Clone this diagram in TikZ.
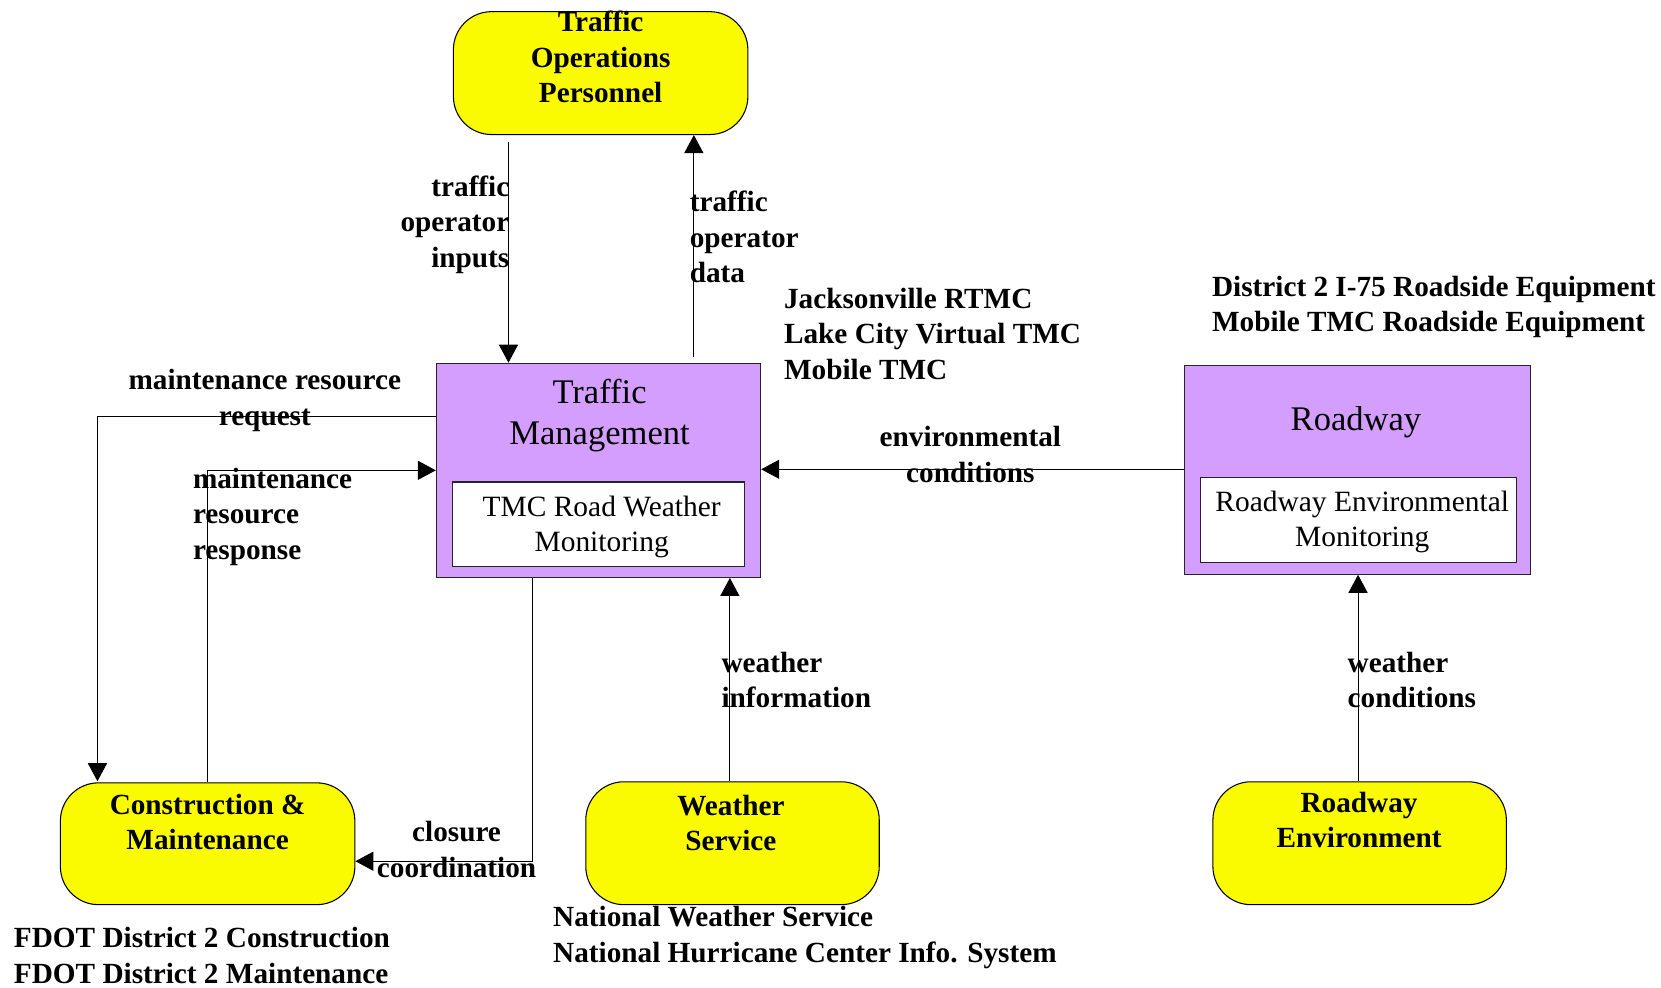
\documentclass[tikz,border=0pt]{standalone}
\usepackage{fontspec}
\setmainfont{Liberation Serif}
\usetikzlibrary{arrows.meta}
\definecolor{tmpurple}{RGB}{212,158,255}
\definecolor{termyellow}{RGB}{250,250,0}
\begin{document}
\begin{tikzpicture}[x=1pt,y=-1pt,
  termbox/.style={draw=black, line width=1pt, fill=termyellow, rounded corners=36pt, inner sep=0pt},
  sysbox/.style={draw=black!85, line width=1.2pt, fill=tmpurple, inner sep=0pt},
  subbox/.style={draw=black!85, line width=1pt, fill=white, inner sep=0pt},
  btxt/.style={inner sep=0pt, font=\fontsize{27.6}{33.5}\selectfont\bfseries},
  titletxt/.style={inner sep=0pt, align=center, font=\fontsize{32.6}{39}\selectfont},
  subtxt/.style={inner sep=0pt, align=center, font=\fontsize{27.8}{33}\selectfont},
  conn/.style={draw=black, line width=0.9pt, -{Triangle[width=18pt,length=17pt]}}
]
\useasboundingbox (0,0) rectangle (1568,932);

% boxes
\node[termbox, minimum width=278pt, minimum height=116pt] (top) at (567,69) {};
\node[sysbox, minimum width=306pt, minimum height=202pt] (tm) at (565,444) {};
\node[subbox, minimum width=276pt, minimum height=80pt] (tmin) at (565,495) {};
\node[sysbox, minimum width=327pt, minimum height=197pt] (rw) at (1281.5,443.5) {};
\node[subbox, minimum width=299pt, minimum height=80pt] (rwin) at (1282.5,491) {};
\node[termbox, minimum width=278pt, minimum height=115pt] (cm) at (196,796.5) {};
\node[termbox, minimum width=277pt, minimum height=116pt] (ws) at (691.5,796) {};
\node[termbox, minimum width=277pt, minimum height=116pt] (re) at (1283.5,796) {};

% box texts
\node[btxt, align=center] (topT) at (567,54) {Traffic\\Operations\\Personnel};
\node[titletxt] (tmT) at (566,392) {Traffic\\Management};
\node[subtxt] (tminT) at (568,497) {TMC Road Weather\\Monitoring};
\node[titletxt] (rwT) at (1280,399) {Roadway};
\node[subtxt] (rwinT) at (1286,493) {Roadway Environmental\\Monitoring};
\node[btxt, align=center] (cmT) at (196,776) {Construction \&\\Maintenance};
\node[btxt, align=center] (wsT) at (690,777) {Weather\\Service};
\node[btxt, align=center] (reT) at (1283,774) {Roadway\\Environment};

% routing coordinates
\coordinate (xin) at (480,0);
\coordinate (xdata) at (655,0);
\coordinate (yreq) at (0,393);
\coordinate (xreq) at (92,0);
\coordinate (xresp) at (196,0);
\coordinate (yresp) at (0,444);
\coordinate (xclos) at (503,0);
\coordinate (yclos) at (0,813);
\coordinate (xwi) at (689,0);
\coordinate (yenv) at (0,443);
\coordinate (xwc) at (1282,0);

% connectors
\draw[conn] (top.south -| xin) ++(0,7) -- (tm.north -| xin);
\draw[conn] (tm.north -| xdata) ++(0,-5) -- (top.south -| xdata);
\draw[conn] (tm.west |- yreq) -| ([yshift=1pt]cm.north -| xreq);
\draw[conn] (cm.north -| xresp) |- (tm.west |- yresp);
\draw[conn] (tm.south -| xclos) |- (cm.east |- yclos);
\draw[conn] (ws.north -| xwi) -- (tm.south -| xwi);
\draw[conn] (rw.west |- yenv) -- (tm.east |- yenv);
\draw[conn] (re.north -| xwc) -- (rw.south -| xwc);

% connector labels
\node[btxt, align=right, anchor=east] (lInputs) at (481,212) {traffic\\operator\\inputs};
\node[btxt, align=left, anchor=west] (lData) at (651,224) {traffic\\operator\\data};
\node[btxt, align=center] (lReq) at (250,378) {maintenance resource\\request};
\node[btxt, align=left, anchor=west] (lResp) at (182,488) {maintenance\\resource\\response};
\node[btxt, align=center] (lClos) at (431,802) {closure\\coordination};
\node[btxt, align=left, anchor=west] (lWInfo) at (681,642) {weather\\information};
\node[btxt, align=center] (lEnv) at (916,429) {environmental\\conditions};
\node[btxt, align=left, anchor=west] (lWCond) at (1272,642) {weather\\conditions};

% annotations
\node[btxt, align=left, anchor=west] (aJax) at (740,315) {Jacksonville RTMC\\Lake City Virtual TMC\\Mobile TMC};
\node[btxt, align=left, anchor=west] (aRS) at (1144,290) {District 2 I-75 Roadside Equipment\\Mobile TMC Roadside Equipment};
\node[btxt, align=left, anchor=west] (aFDOT) at (13,902) {FDOT District 2 Construction\\FDOT District 2 Maintenance};
\node[btxt, align=left, anchor=west] (aNWS) at (522,885) {National Weather Service\\National Hurricane Center Info. System};
\end{tikzpicture}
\end{document}
